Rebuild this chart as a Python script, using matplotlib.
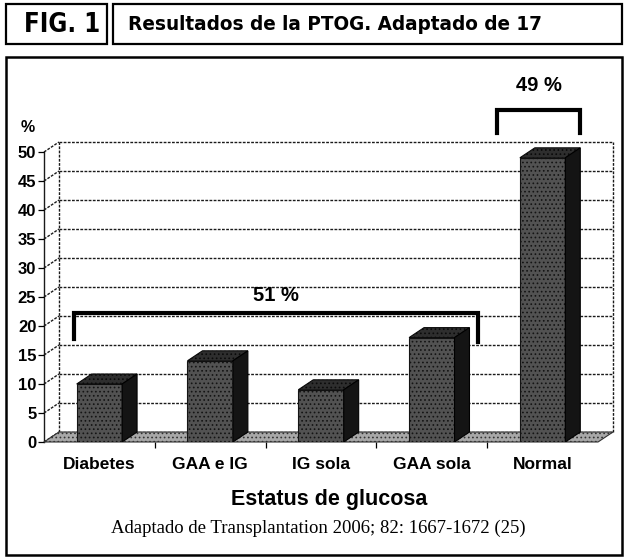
import matplotlib
matplotlib.use("Agg")
import matplotlib.pyplot as plt
from matplotlib import font_manager
from matplotlib.patches import Polygon, Rectangle
import numpy as np

categories = ["Diabetes", "GAA e IG", "IG sola", "GAA sola", "Normal"]
values = [10, 14, 9, 18, 49]
yticks = list(range(0, 51, 5))
group_abnormal = [0, 1, 2, 3]
group_normal = [4]

plt.rcParams["hatch.linewidth"] = 0.7
SANS = ["Liberation Sans", "DejaVu Sans"]
SERIF = ["Liberation Serif", "DejaVu Serif"]


def narrow_bold_font():
    # look for a condensed bold face for the header (Helvetica Condensed look-alike)
    best = None
    for f in font_manager.fontManager.ttflist:
        name = f.name.lower()
        fn = f.fname.lower()
        condensed = ("narrow" in name or "condensed" in name or "narrow" in fn
                     or "condensed" in fn or str(f.stretch).startswith(("condensed", "semi-condensed", "extra")))
        bold = f.weight in ("bold", 700, "heavy", 800, 900) or "bold" in fn
        if condensed and bold and "italic" not in fn and "oblique" not in fn:
            rank = 0 if "liberation" in fn else 1 if "dejavu" in fn else 2
            if best is None or rank < best[0]:
                best = (rank, f.fname)
    if best:
        return font_manager.FontProperties(fname=best[1])
    return font_manager.FontProperties(family="Liberation Sans", weight="bold")


W, H = 624, 558
fig = plt.figure(figsize=(W / 100, H / 100), dpi=100)

# depth offset of the pseudo-3D box (category units / value units)
DX, DY = 0.135, 1.72
BW = 0.41

ax = fig.add_axes([44 / W, 116 / H, (5 + DX) * 110.8 / W, (50 + DY) * 5.8 / H])
x = np.arange(len(categories))
ax.set_xlim(-0.5, len(categories) - 0.5 + DX)
ax.set_ylim(0, 50 + DY)

# back wall + side wall grid
x0, x1 = -0.5, len(categories) - 0.5
grid_kw = dict(color="#1a1a1a", lw=1.0, ls=(0, (2, 1)), zorder=1, clip_on=False)
for v in yticks:
    ax.plot([x0 + DX, x1 + DX], [v + DY, v + DY], **grid_kw)
    ax.plot([x0, x0 + DX], [v, v + DY], **grid_kw)
ax.plot([x0 + DX, x0 + DX], [DY, 50 + DY], **grid_kw)
ax.plot([x1 + DX, x1 + DX], [DY, 50 + DY], **grid_kw)

# floor
ax.add_patch(Polygon([(x0, 0), (x1, 0), (x1 + DX, DY), (x0 + DX, DY)],
                     closed=True, facecolor="#a8a8a8", edgecolor="#333333",
                     hatch="....", lw=0.8, zorder=2, clip_on=False))

# bars: front, top and side faces
ax.bar(x, values, width=BW, facecolor="#525252", edgecolor="#141414",
       hatch="....", lw=0.8, zorder=4)
for xi, v in zip(x, values):
    l, r = xi - BW / 2, xi + BW / 2
    ax.add_patch(Polygon([(l, v), (r, v), (r + DX, v + DY), (l + DX, v + DY)],
                         closed=True, facecolor="#2e2e2e", edgecolor="#0a0a0a",
                         hatch="....", lw=0.8, zorder=4))
    ax.add_patch(Polygon([(r, 0), (r + DX, DY), (r + DX, v + DY), (r, v)],
                         closed=True, facecolor="#141414", edgecolor="#000000",
                         lw=0.8, zorder=4))


# group brackets
def bracket(idx, left_pad, right_pad, rise, drop_l, drop_r, label, text_rise):
    top = max(values[i] for i in idx) + rise
    xl = x[idx[0]] - left_pad
    xr = x[idx[-1]] + right_pad
    ax.plot([xl, xl, xr, xr], [top - drop_l, top, top, top - drop_r],
            color="black", lw=3, solid_joinstyle="miter", zorder=6, clip_on=False)
    ax.text((xl + xr) / 2, top + text_rise, label, ha="center", va="center",
            fontsize=14.5, fontweight="bold", family=SANS, clip_on=False)


bracket(group_abnormal, 0.226, 0.417, 4.2, 4.4, 5.0,
        f"{sum(values[i] for i in group_abnormal)} %", 3.0)
bracket(group_normal, 0.41, 0.34, 8.2, 3.9, 3.9,
        f"{values[group_normal[0]]} %", 4.2)

# axes styling
for s in ["top", "right", "bottom"]:
    ax.spines[s].set_visible(False)
ax.spines["left"].set_bounds(0, 50)
ax.spines["left"].set_linestyle((0, (2, 1)))
ax.spines["left"].set_linewidth(1.0)
ax.spines["left"].set_color("#1a1a1a")
ax.spines["left"].set_zorder(1)
ax.set_yticks(yticks)
ax.tick_params(axis="y", length=4, width=0.9, pad=1.5, labelsize=12)
for t in ax.get_yticklabels():
    t.set_fontweight("bold")
    t.set_family(SANS)
ax.set_xticks(x)
ax.set_xticklabels(categories, fontsize=12.5, fontweight="bold", family=SANS)
ax.tick_params(axis="x", which="major", length=0, pad=11)
ax.set_xticks(x[:-1] + 0.5, minor=True)
ax.tick_params(axis="x", which="minor", length=4, width=0.9, direction="out")
ax.patch.set_visible(False)

fig.text(28 / W, 1 - 127 / H, "%", ha="center", va="center",
         fontsize=11.5, fontweight="bold", family=SANS)
fig.text(329 / W, 1 - 500 / H, "Estatus de glucosa", ha="center", va="center",
         fontsize=15.5, fontweight="bold", family=SANS)
fig.text(318 / W, 1 - 528 / H, "Adaptado de Transplantation 2006; 82: 1667-1672 (25)",
         ha="center", va="center", fontsize=13.5, family=SERIF)


# header boxes and main frame
def frame(x_l, y_t, x_r, y_b, lw):
    fig.add_artist(Rectangle((x_l / W, 1 - y_b / H), (x_r - x_l) / W, (y_b - y_t) / H,
                             transform=fig.transFigure, fill=False,
                             edgecolor="black", lw=lw))


frame(6, 4, 107, 44, 1.6)
frame(113, 4, 622, 44, 1.6)
frame(6, 57, 622, 555, 1.8)
head_font = narrow_bold_font()
fig_lbl = fig.text(62 / W, 1 - 25 / H, "FIG. 1", ha="center", va="center",
                   fontproperties=head_font, fontsize=20)
title = fig.text(128 / W, 1 - 25 / H, "Resultados de la PTOG. Adaptado de 17",
                 ha="left", va="center", fontproperties=head_font, fontsize=20)

# fit the header texts to the reference width
renderer = fig.canvas.get_renderer()
for txt, target in [(fig_lbl, 76), (title, 413)]:
    w = txt.get_window_extent(renderer).width
    txt.set_fontsize(min(24, txt.get_fontsize() * target / w))

fig.savefig("out.png", dpi=100)
